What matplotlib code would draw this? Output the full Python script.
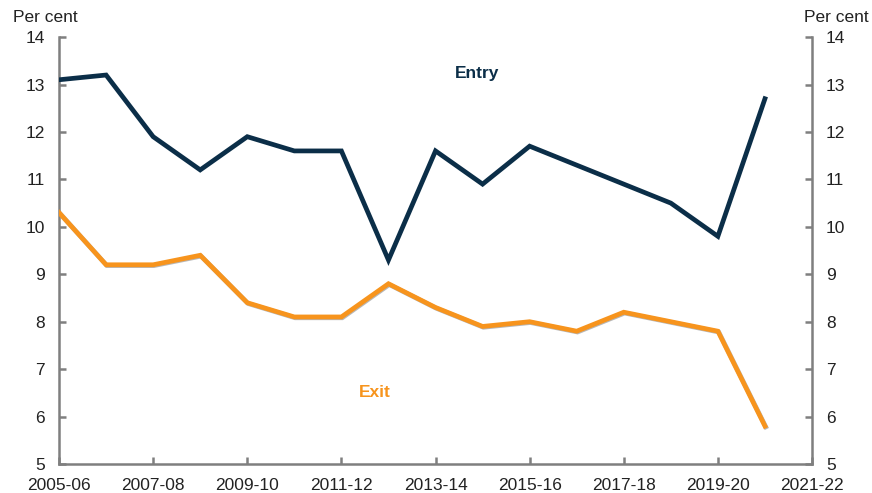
import matplotlib
matplotlib.use("Agg")
import matplotlib.pyplot as plt
import matplotlib.patheffects as pe

plt.rcParams['font.family'] = ['Liberation Sans', 'DejaVu Sans']

years = ["2005-06", "2006-07", "2007-08", "2008-09", "2009-10", "2010-11", "2011-12",
         "2012-13", "2013-14", "2014-15", "2015-16", "2016-17", "2017-18", "2018-19",
         "2019-20", "2020-21"]
entry = [13.1, 13.2, 11.9, 11.2, 11.9, 11.6, 11.6, 9.3, 11.6, 10.9, 11.7, 11.3, 10.9, 10.5, 9.8, 12.7]
exit_ = [10.3, 9.2, 9.2, 9.4, 8.4, 8.1, 8.1, 8.8, 8.3, 7.9, 8.0, 7.8, 8.2, 8.0, 7.8, 5.8]
tick_labels = ["2005-06", "2007-08", "2009-10", "2011-12", "2013-14", "2015-16",
               "2017-18", "2019-20", "2021-22"]
yticks = [5, 6, 7, 8, 9, 10, 11, 12, 13, 14]

navy = "#0b2e48"
orange = "#f7941d"
grey = "#7f7f7f"
fs = 12.5

fig = plt.figure(figsize=(8.72, 4.93), dpi=100)
ax = fig.add_axes([0.0677, 0.0588, 0.8635, 0.866])
x = list(range(len(years)))
ax.plot(x, entry, color=navy, lw=3.4, solid_joinstyle='miter', zorder=3)
ax.plot(x, exit_, color=orange, lw=3.4, solid_joinstyle='miter', zorder=3,
        path_effects=[pe.SimpleLineShadow(offset=(0.6, -0.6), shadow_color='#888888', alpha=0.6), pe.Normal()])

ax.set_xlim(0, 16)
ax.set_ylim(5, 14)
ax.set_xticks(list(range(0, 17, 2)))
ax.set_xticklabels(tick_labels)
ax.set_yticks(yticks)
ax.set_yticklabels([str(v) for v in yticks])

ax.spines['top'].set_visible(False)
for s in ['left', 'right', 'bottom']:
    ax.spines[s].set_color(grey)
    ax.spines[s].set_linewidth(1.8)

ax.tick_params(axis='both', direction='in', color=grey, width=1.8, length=5,
               labelsize=fs, labelcolor='#222222')
ax.tick_params(axis='y', left=True, right=True, labelleft=True, labelright=True, pad=10)
ax.tick_params(axis='x', pad=10)

fig.text(0.015, 0.965, "Per cent", fontsize=fs, ha='left', va='center', color='#222222')
fig.text(0.996, 0.965, "Per cent", fontsize=fs, ha='right', va='center', color='#222222')

ax.text(8.88, 13.23, "Entry", color=navy, fontsize=fs, fontweight='bold', ha='center', va='center')
ax.text(6.7, 6.5, "Exit", color=orange, fontsize=fs, fontweight='bold', ha='center', va='center')

fig.savefig("out.png", dpi=100)
